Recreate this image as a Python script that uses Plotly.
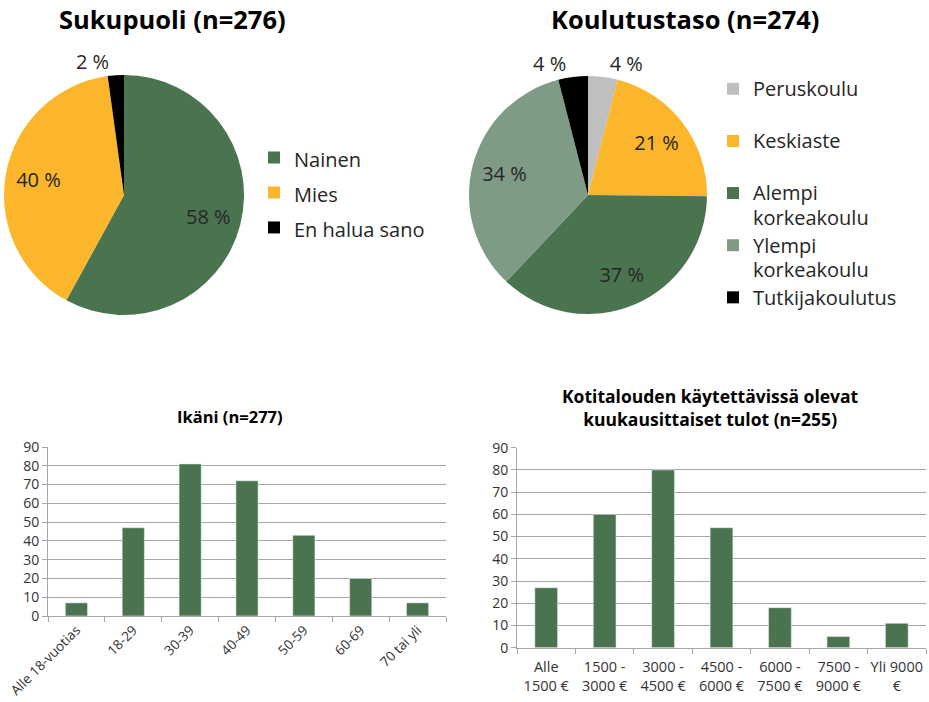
import plotly.graph_objects as go

# ---------------- data ----------------
gender_labels = ["Nainen", "Mies", "En halua sano"]
gender_values = [160, 110, 6]

edu_labels = ["Peruskoulu", "Keskiaste", "Alempi<br>korkeakoulu", "Ylempi<br>korkeakoulu", "Tutkijakoulutus"]
edu_values = [11, 58, 101, 93, 11]

age_labels = ["Alle 18-vuotias", "18-29", "30-39", "40-49", "50-59", "60-69", "70 tai yli"]
age_values = [7, 47, 81, 72, 43, 20, 7]

income_labels = ["Alle<br>1500 €", "1500 -<br>3000 €", "3000 -<br>4500 €", "4500 -<br>6000 €",
                 "6000 -<br>7500 €", "7500 -<br>9000 €", "Yli 9000<br>€"]
income_values = [27, 60, 80, 54, 18, 5, 11]

yticks = [0, 10, 20, 30, 40, 50, 60, 70, 80, 90]

# ---------------- style ----------------
W, H = 929, 702
FONT = "Open Sans"
GREEN = "#4A7350"
YELLOW = "#FBB62B"
GRAY = "#BFBFBF"
LGREEN = "#7F9A85"
BLACK = "#000000"
TXT = "#262626"
CLEAR = "rgba(0,0,0,0)"


def px_x(x):
    return x / W


def px_y(y):
    return 1 - y / H


def pct_text(values):
    tot = sum(values)
    return [f"{round(v / tot * 100)} %" for v in values]


def legend_names(labels, size, second_line=False):
    out = []
    for lab in labels:
        if second_line and "<br>" not in lab:
            lab = lab + "<br>\u00a0"
        parts = lab.split("<br>")
        out.append("<br>".join(f'<span style="font-size:{size}px">{p}</span>' for p in parts))
    return out


fig = go.Figure()

pie1_dom = dict(x=[px_x(4), px_x(244)], y=[px_y(315), px_y(75)])
pie2_dom = dict(x=[px_x(469), px_x(707)], y=[px_y(314), px_y(76)])

# Pie 1 (slices)
fig.add_trace(go.Pie(
    labels=legend_names(gender_labels, 20),
    values=gender_values,
    textinfo="none",
    marker=dict(colors=[GREEN, YELLOW, BLACK], line=dict(width=0)),
    sort=False, direction="clockwise", rotation=0,
    domain=pie1_dom,
    hoverinfo="label+percent",
    legend="legend",
))
# Pie 1 (percentage labels, same data, transparent ring so labels sit near the rim)
fig.add_trace(go.Pie(
    labels=gender_labels,
    values=gender_values,
    text=pct_text(gender_values),
    textinfo="text",
    textposition=["inside", "inside", "outside"],
    insidetextorientation="horizontal",
    textfont=dict(family=FONT, size=20, color=TXT),
    marker=dict(colors=[CLEAR] * 3, line=dict(width=0)),
    hole=0.45,
    sort=False, direction="clockwise", rotation=0,
    domain=pie1_dom,
    hoverinfo="skip",
    showlegend=False,
))

# Pie 2 (slices)
fig.add_trace(go.Pie(
    labels=legend_names(edu_labels, 20, second_line=True),
    values=edu_values,
    textinfo="none",
    marker=dict(colors=[GRAY, YELLOW, GREEN, LGREEN, BLACK], line=dict(width=0)),
    sort=False, direction="clockwise", rotation=0,
    domain=pie2_dom,
    hoverinfo="label+percent",
    legend="legend2",
))
# Pie 2 (labels)
fig.add_trace(go.Pie(
    labels=[l.replace("<br>", " ") for l in edu_labels],
    values=edu_values,
    text=pct_text(edu_values),
    textinfo="text",
    textposition=["outside", "inside", "inside", "inside", "outside"],
    insidetextorientation="horizontal",
    textfont=dict(family=FONT, size=20, color=TXT),
    marker=dict(colors=[CLEAR] * 5, line=dict(width=0)),
    hole=0.45,
    sort=False, direction="clockwise", rotation=0,
    domain=pie2_dom,
    hoverinfo="skip",
    showlegend=False,
))

# Bar 1
fig.add_trace(go.Bar(
    x=age_labels, y=age_values, marker=dict(color=GREEN, line=dict(color="#E8EDE9", width=0.6)),
    xaxis="x", yaxis="y", showlegend=False,
))
# Bar 2
fig.add_trace(go.Bar(
    x=income_labels, y=income_values, marker=dict(color=GREEN, line=dict(color="#E8EDE9", width=0.6)),
    xaxis="x2", yaxis="y2", showlegend=False,
))

axis_common = dict(showline=True, linecolor="#A6A6A6", linewidth=1, ticks="outside",
                   tickcolor="#A6A6A6", ticklen=5, automargin=False)

fig.update_layout(
    width=W, height=H,
    margin=dict(l=0, r=0, t=0, b=0, autoexpand=False),
    paper_bgcolor="white", plot_bgcolor="white",
    font=dict(family=FONT, color=TXT),
    bargap=0.61,
    legend=dict(x=px_x(254), y=px_y(135), xanchor="left", yanchor="top",
                font=dict(family=FONT, size=24.6, color=TXT), bgcolor=CLEAR,
                traceorder="normal"),
    legend2=dict(x=px_x(713), y=px_y(70), xanchor="left", yanchor="top", valign="top",
                 font=dict(family=FONT, size=18.9, color=TXT), bgcolor=CLEAR,
                 traceorder="normal"),
    xaxis=dict(domain=[px_x(48), px_x(446)], anchor="y", type="category", tickson="boundaries",
               tickangle=-45, showgrid=False, tickfont=dict(family=FONT, size=13.5, color="#333333"),
               **axis_common),
    yaxis=dict(domain=[px_y(616), px_y(447)], anchor="x", range=[0, 90], tickvals=yticks,
               showgrid=True, gridcolor="#A6A6A6", gridwidth=1, zeroline=False,
               tickfont=dict(family=FONT, size=14, color="#333333"), **axis_common),
    xaxis2=dict(domain=[px_x(517), px_x(926)], anchor="y2", type="category", tickson="boundaries",
                tickangle=0, showgrid=False, tickfont=dict(family=FONT, size=14.5, color="#333333"),
                ticklabelstandoff=6, **axis_common),
    yaxis2=dict(domain=[px_y(647.7), px_y(447.7)], anchor="x2", range=[0, 90], tickvals=yticks,
                showgrid=True, gridcolor="#A6A6A6", gridwidth=1, zeroline=False,
                tickfont=dict(family=FONT, size=14, color="#333333"), **axis_common),
    annotations=[
        dict(text="<b>Sukupuoli (n=276)</b>", x=px_x(172), y=px_y(19), xref="paper", yref="paper",
             showarrow=False, xanchor="center", yanchor="middle", font=dict(family=FONT, size=25.5, color=BLACK)),
        dict(text="<b>Koulutustaso (n=274)</b>", x=px_x(685), y=px_y(19), xref="paper", yref="paper",
             showarrow=False, xanchor="center", yanchor="middle", font=dict(family=FONT, size=25.5, color=BLACK)),
        dict(text="<b>Ikäni (n=277)</b>", x=px_x(230), y=px_y(416), xref="paper", yref="paper",
             showarrow=False, xanchor="center", yanchor="middle", font=dict(family=FONT, size=16.5, color=BLACK)),
        dict(text="<b>Kotitalouden käytettävissä olevat<br>kuukausittaiset tulot (n=255)</b>",
             x=px_x(710), y=px_y(407), xref="paper", yref="paper",
             showarrow=False, xanchor="center", yanchor="middle", font=dict(family=FONT, size=17.5, color=BLACK)),
    ],
)

fig.write_html("out.html")
